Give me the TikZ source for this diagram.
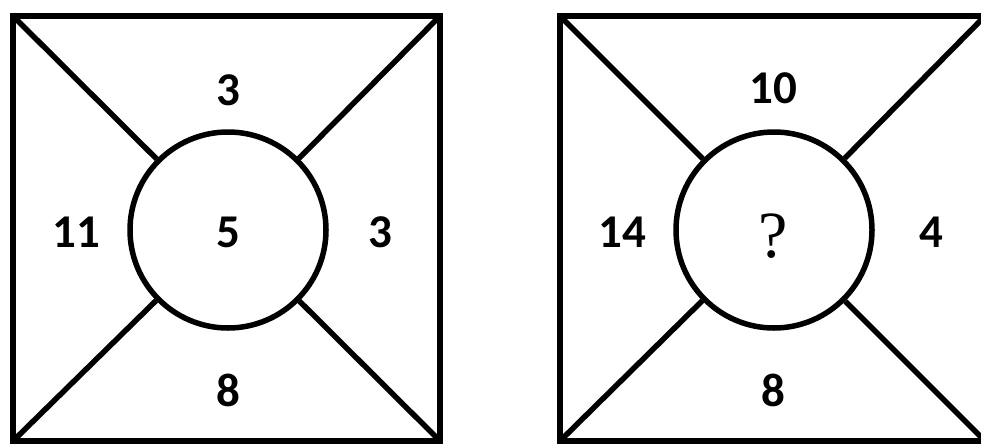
\documentclass[tikz,border=0pt]{standalone}
\usepackage{fontspec}
\setmainfont{Carlito}
\newfontfamily\qfont{Liberation Serif}
\begin{document}
\begin{tikzpicture}[x=1pt,y=-1pt,
  ln/.style={line width=5.5pt},
  circ/.style={circle,draw,line width=5.5pt,minimum size=196pt,inner sep=0pt},
  num/.style={font=\fontsize{47}{47}\selectfont\bfseries}]
\useasboundingbox (0,0) rectangle (981,447);
\begin{scope}
\clip (0,0) rectangle (981,447);
% left square
\coordinate (a1) at (13,16);
\coordinate (a2) at (440,16);
\coordinate (a3) at (440,441);
\coordinate (a4) at (13,441);
\node[circ] (c1) at (228,230) {};
\draw[ln,line join=miter] (a1) -- (a2) -- (a3) -- (a4) -- cycle;
\draw[ln] (a1) -- (c1); \draw[ln] (a2) -- (c1);
\draw[ln] (a3) -- (c1); \draw[ln] (a4) -- (c1);
% right square
\coordinate (b1) at (560,16);
\coordinate (b2) at (985,16);
\coordinate (b3) at (985,441);
\coordinate (b4) at (560,441);
\node[circ] (c2) at (774,230) {};
\draw[ln,line join=miter] (b1) -- (b2) -- (b3) -- (b4) -- cycle;
\draw[ln] (b1) -- (c2); \draw[ln] (b2) -- (c2);
\draw[ln] (b3) -- (c2); \draw[ln] (b4) -- (c2);
\end{scope}
% labels left
\node[num] (t1) at (228,90) {3};
\node[num] (l1) at (76,232) {11};
\node[num] (m1) at (228,232) {5};
\node[num] (r1) at (380,232) {3};
\node[num] (d1) at (228,390) {8};
% labels right
\node[num] (t2) at (773,88) {10};
\node[num] (l2) at (622,232) {14};
\node (m2) at (773,236) {\fontsize{66}{66}\selectfont\qfont ?};
\node[num] (r2) at (931,232) {4};
\node[num] (d2) at (773,390) {8};
\end{tikzpicture}
\end{document}
